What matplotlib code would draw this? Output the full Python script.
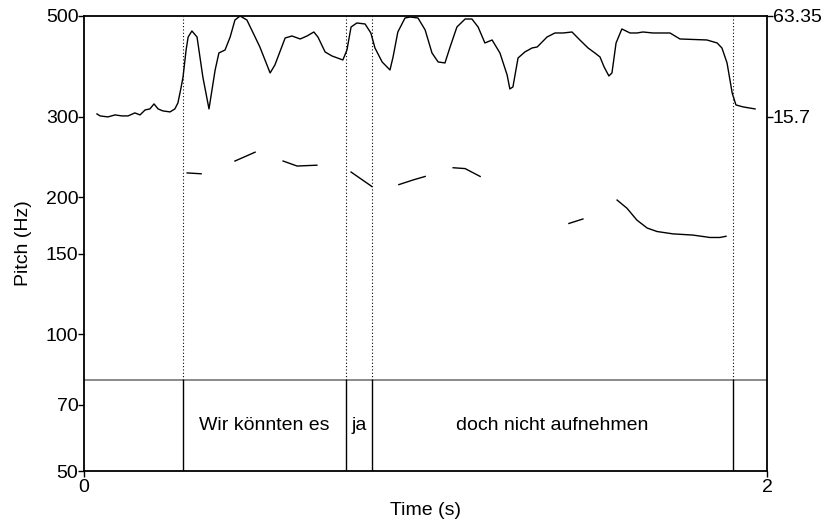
import numpy as np
from matplotlib import pyplot as plt
from matplotlib.ticker import NullLocator

# Intensity contour (time in s, intensity in dB)
int_time = [0.038, 0.047, 0.070, 0.091, 0.111, 0.129, 0.149, 0.164, 0.179, 0.193,
            0.205, 0.217, 0.231, 0.252, 0.266, 0.275, 0.284, 0.290, 0.299, 0.305,
            0.316, 0.331, 0.348, 0.366, 0.384, 0.395, 0.413, 0.428, 0.442, 0.457,
            0.477, 0.501, 0.515, 0.545, 0.559, 0.589, 0.609, 0.633, 0.653, 0.673,
            0.685, 0.706, 0.726, 0.758, 0.770, 0.782, 0.799, 0.823, 0.840, 0.852,
            0.873, 0.896, 0.905, 0.919, 0.940, 0.955, 0.978, 0.999, 1.019, 1.037,
            1.057, 1.072, 1.092, 1.116, 1.136, 1.154, 1.174, 1.195, 1.218, 1.239,
            1.247, 1.256, 1.271, 1.291, 1.312, 1.327, 1.356, 1.379, 1.403, 1.429,
            1.452, 1.476, 1.496, 1.511, 1.523, 1.537, 1.546, 1.558, 1.575, 1.599,
            1.619, 1.637, 1.666, 1.716, 1.745, 1.824, 1.854, 1.868, 1.883, 1.898,
            1.909, 1.930, 1.965]
int_db = [17.11, 16.17, 15.70, 16.64, 16.17, 16.17, 17.59, 16.64, 19.00, 19.47,
          21.83, 19.47, 18.53, 18.06, 19.47, 22.30, 29.38, 34.57, 47.31, 53.44,
          56.27, 53.44, 34.57, 19.47, 37.87, 45.89, 47.31, 53.44, 61.46, 63.35,
          61.46, 53.44, 48.72, 36.46, 40.23, 52.97, 53.91, 52.50, 53.91, 55.80,
          53.44, 46.37, 44.48, 42.59, 47.31, 58.16, 60.05, 59.58, 55.33, 48.25,
          41.65, 37.87, 44.00, 55.80, 62.41, 62.88, 62.41, 56.75, 45.89, 41.65,
          41.18, 48.72, 58.16, 61.93, 61.93, 58.16, 50.61, 52.03, 45.89, 35.51,
          28.91, 29.85, 43.53, 46.37, 48.25, 48.72, 53.44, 55.33, 55.33, 55.80,
          52.03, 48.25, 45.89, 44.00, 39.29, 35.04, 36.46, 50.61, 57.22, 55.33,
          55.33, 55.80, 55.33, 55.33, 52.50, 52.03, 50.61, 48.25, 41.18, 27.02,
          21.36, 20.42, 19.47]

# Pitch contour, voiced stretches (time in s, F0 in Hz)
pitch_segments = [
    ([0.302, 0.343], [226, 225]),
    ([0.442, 0.501], [240, 251]),
    ([0.583, 0.624, 0.682], [240, 234, 235]),
    ([0.782, 0.843], [227, 211]),
    ([0.922, 0.963, 0.999], [213, 218, 222]),
    ([1.081, 1.116, 1.160], [232, 231, 222]),
    ([1.420, 1.461], [175, 179]),
    ([1.561, 1.590, 1.619, 1.649, 1.678, 1.725, 1.783, 1.833, 1.862, 1.880],
     [197, 189, 178, 171, 168, 166, 165, 163, 163, 164]),
]

# Word tier
boundaries = [0.29, 0.767, 0.843, 1.90]
words = ["Wir könnten es", "ja", "doch nicht aufnehmen"]
tier_line = 79.2  # Hz level where the tier starts

pitch_ticks = [50, 70, 100, 150, 200, 300, 500]
int_ticks = [15.7, 63.35]

plt.rcParams['font.family'] = ['Liberation Sans', 'DejaVu Sans']
plt.rcParams['font.size'] = 14

fig = plt.figure(figsize=(8.23, 5.24), dpi=100)
ax = fig.add_axes([84 / 823, 53 / 524, 683 / 823, 455 / 524])

ax.set_yscale('log')
ax.set_ylim(50, 500)
ax.set_xlim(0, 2)
ax.set_yticks(pitch_ticks)
ax.set_yticklabels([str(t) for t in pitch_ticks])
ax.yaxis.set_minor_locator(NullLocator())
ax.set_xticks([0, 2])
ax.set_xticklabels(["0", "2"])
ax.tick_params(direction='out', length=4, width=1)
ax.tick_params(axis='y', pad=0)
ax.tick_params(axis='x', pad=2)
ax.set_ylabel("Pitch (Hz)", labelpad=10)
ax.set_xlabel("Time (s)", labelpad=4)
for s in ax.spines.values():
    s.set_linewidth(1.3)

for t, f in pitch_segments:
    ax.plot(t, f, color='black', lw=1)

# tier frame
ax.axhline(tier_line, color='#777777', lw=1.2)
for b in boundaries:
    ax.plot([b, b], [50, tier_line], color='black', lw=1)
    ax.plot([b, b], [tier_line, 500], color='black', lw=0.8, ls=(0, (1, 2)))
for i, w in enumerate(words):
    ax.text((boundaries[i] + boundaries[i + 1]) / 2, 63, w,
            ha='center', va='center', fontsize=14)

ax2 = ax.twinx()
ax2.set_ylim(-151.5, 63.35)
ax2.set_yticks(int_ticks)
ax2.set_yticklabels(["15.7", "63.35"])
ax2.tick_params(direction='out', length=4, width=1, pad=0)
for s in ax2.spines.values():
    s.set_visible(False)
ax2.plot(int_time, int_db, color='black', lw=1)

fig.savefig("out.png", dpi=100)
